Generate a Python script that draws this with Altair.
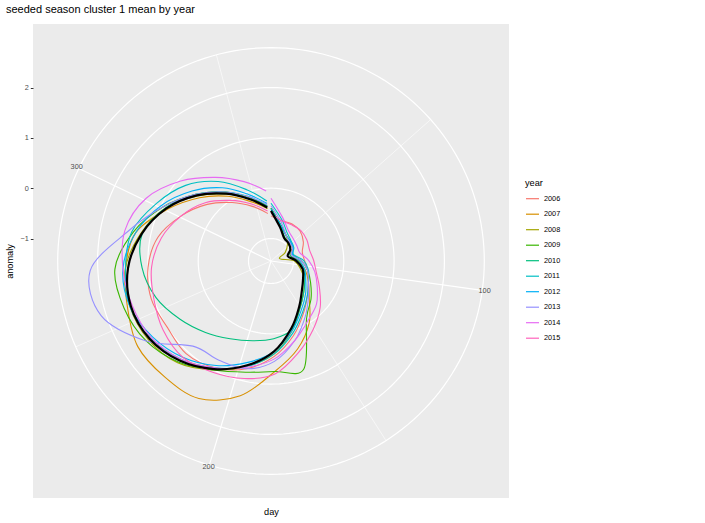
import altair as alt
import pandas as pd

TITLE = "seeded season cluster 1 mean by year"

days = [1, 16, 31, 46, 61, 76, 91, 106, 121, 136, 151, 166, 181,
        196, 211, 226, 241, 256, 271, 286, 301, 316, 331, 346, 361]

years = ["2006", "2007", "2008", "2009", "2010", "2011", "2012", "2013", "2014", "2015"]
colors = ["#F8766D", "#D89000", "#A3A500", "#39B600", "#00BF7D",
          "#00BFC4", "#00B0F6", "#9590FF", "#E76BF3", "#FF62BC"]

y2006 = [-0.55, -0.62, -0.6, -0.62, -0.7, -0.8, -0.78, -0.7, -0.6, -0.45, -0.22, 0.1, 0.45,
         0.75, 0.95, 1.05, 1.0, 1.05, 1.0, 0.85, 0.55, 0.25, -0.05, -0.3, -0.5]
y2007 = [-0.4, -0.7, -0.85, -0.9, -0.95, -1.05, -0.9, -0.75, -0.6, -0.4, 0.0, 0.38, 0.75,
         1.3, 1.64, 1.68, 1.7, 1.55, 1.45, 1.3, 0.85, 0.45, 0.1, -0.2, -0.4]
y2008 = [-0.45, -0.7, -0.85, -0.98, -1.12, -1.27, -1.0, -0.85, -0.7, -0.55, -0.35, 0.0, 0.4,
         0.7, 1.0, 1.3, 1.45, 1.5, 1.45, 1.2, 0.9, 0.5, 0.15, -0.15, -0.4]
y2009 = [-0.4, -0.7, -0.85, -0.9, -0.95, -1.0, -0.85, -0.7, -0.55, -0.35, -0.1, 0.8, 0.75,
         0.82, 1.0, 1.28, 1.5, 1.62, 1.66, 1.35, 0.95, 0.55, 0.2, -0.12, -0.35]
y2010 = [-0.4, -0.72, -0.9, -0.95, -1.0, -1.05, -0.92, -0.78, -0.68, -0.55, -0.35, -0.02, 0.1,
         0.18, 0.3, 0.48, 0.7, 0.95, 1.12, 1.17, 0.9, 0.55, 0.2, -0.1, -0.35]
y2011 = [-0.3, -0.6, -0.8, -0.88, -0.92, -0.98, -0.8, -0.68, -0.6, -0.45, -0.25, 0.05, 0.4,
         0.7, 0.95, 1.2, 1.4, 1.5, 1.45, 1.38, 1.1, 0.82, 0.45, 0.05, -0.25]
y2012 = [-0.42, -0.7, -0.85, -0.9, -0.93, -1.0, -0.88, -0.76, -0.66, -0.5, -0.3, 0.0, 0.35,
         0.62, 0.9, 1.15, 1.35, 1.5, 1.5, 1.3, 1.0, 0.65, 0.3, -0.05, -0.3]
y2013 = [-0.35, -0.65, -0.85, -0.92, -0.95, -1.02, -0.85, -0.7, -0.6, -0.42, -0.15, 0.2, 0.55,
         0.75, 0.78, 0.85, 1.5, 2.1, 2.15, 1.45, 0.95, 0.55, 0.2, -0.1, -0.32]
y2014 = [-0.2, -0.55, -0.75, -0.82, -0.85, -0.85, -0.7, -0.55, -0.4, -0.2, -0.05, 0.2, 0.5,
         0.72, 0.95, 1.2, 1.38, 1.45, 1.5, 1.52, 1.33, 0.95, 0.55, 0.22, -0.05]
y2015 = [-0.5, -0.62, -0.62, -0.6, -0.62, -0.65, -0.6, -0.52, -0.35, -0.1, 0.15, 0.45, 0.8,
         0.95, 1.05, 1.15, 1.1, 1.0, 0.93, 0.78, 0.55, 0.3, 0.0, -0.25, -0.45]

mean_vals = [-0.45, -0.75, -0.92, -0.95, -1.0, -1.1, -0.95, -0.8, -0.72, -0.6, -0.38, -0.05, 0.35,
             0.68, 0.98, 1.24, 1.42, 1.48, 1.40, 1.18, 0.88, 0.52, 0.16, -0.15, -0.38]

r_breaks = [-1, 0, 1, 2]
theta_major = [100, 200, 300]
theta_minor = [50, 150, 250, 350]

series = [y2006, y2007, y2008, y2009, y2010, y2011, y2012, y2013, y2014, y2015]

# ---- layout / scale constants ----
DAY_MIN, DAY_MAX = 1, 365
R_MIN, R_MAX = -1.447, 2.322
SPAN = R_MAX - R_MIN
W, H = 476, 474
XR = W / H * 0.5

rows = []
for yr, vals in zip(years, series):
    for d, v in zip(days, vals):
        rows.append({"year": yr, "day": d, "value": v})
df_years = pd.DataFrame(rows)
df_mean = pd.DataFrame({"day": days, "value": mean_vals})

xs = alt.Scale(domain=[-XR, XR], nice=False, zero=False)
ys = alt.Scale(domain=[-0.5, 0.5], nice=False, zero=False)
xaxis = alt.Axis(title="day", labels=False, ticks=False, domain=False, grid=False,
                 titleFontSize=9.2, titleFontWeight="normal", titleColor="black",
                 titlePadding=9)

theta_expr = f"(datum.day - {DAY_MIN}) / {DAY_MAX - DAY_MIN} * 2 * PI"
rn_expr = f"(datum.value - {R_MIN}) / {SPAN} * 0.4"


def X(f="px"):
    return alt.X(f"{f}:Q", scale=xs, axis=xaxis)


def Y(f="py"):
    return alt.Y(f"{f}:Q", scale=ys, axis=None)


def polar(chart):
    return chart.transform_calculate(th=theta_expr, rn=rn_expr).transform_calculate(
        px="datum.rn * sin(datum.th)", py="datum.rn * cos(datum.th)")


# grid circles at r breaks
circles = alt.Chart(alt.sequence(0, 361, 2, as_="deg")).transform_calculate(
    value=str(r_breaks)
).transform_flatten(["value"]).transform_calculate(
    rn=rn_expr, th="datum.deg * PI / 180"
).transform_calculate(
    px="datum.rn * sin(datum.th)", py="datum.rn * cos(datum.th)"
).mark_line(color="white", strokeWidth=1.2).encode(
    x=X(), y=Y(), detail="value:Q", order="deg:Q")

outer = alt.Chart(alt.sequence(0, 361, 2, as_="deg")).transform_calculate(
    rn="0.45", th="datum.deg * PI / 180"
).transform_calculate(
    px="datum.rn * sin(datum.th)", py="datum.rn * cos(datum.th)"
).mark_line(color="white", strokeWidth=1.2).encode(x=X(), y=Y(), order="deg:Q")


def spokes(day_list, width):
    return alt.Chart(pd.DataFrame({"day": day_list})).transform_calculate(
        th=theta_expr
    ).transform_calculate(
        px="0", py="0", px2="0.45 * sin(datum.th)", py2="0.45 * cos(datum.th)"
    ).mark_rule(color="white", strokeWidth=width).encode(
        x=X(), y=Y(), x2="px2:Q", y2="py2:Q")


spokes_minor = spokes(theta_minor, 0.6)
spokes_major = spokes(theta_major, 1.2)

year_lines = polar(alt.Chart(df_years)).mark_line(
    strokeWidth=1.1, interpolate="cardinal"
).encode(
    x=X(), y=Y(), order="day:Q",
    color=alt.Color("year:N", scale=alt.Scale(domain=years, range=colors),
                    legend=alt.Legend(title="year", orient="none", legendX=492, legendY=155,
                                      symbolType="stroke", symbolSize=169,
                                      symbolStrokeWidth=1.2, labelFontSize=7.3,
                                      titleFontSize=9.2, titleFontWeight="normal",
                                      titleColor="black", labelColor="black",
                                      titlePadding=3, rowPadding=4.5, labelOffset=4,
                                      padding=0)))

mean_line = polar(alt.Chart(df_mean)).mark_line(
    strokeWidth=2.2, color="black", interpolate="cardinal"
).encode(x=X(), y=Y(), order="day:Q")

theta_labels = alt.Chart(pd.DataFrame({"day": theta_major})).transform_calculate(
    th=theta_expr
).transform_calculate(
    px="0.455 * sin(datum.th)", py="0.455 * cos(datum.th)"
).mark_text(fontSize=7.3, color="#4D4D4D", align="center", baseline="middle").encode(
    x=X(), y=Y(), text="day:Q")

r_axis = alt.Chart(pd.DataFrame({"b": r_breaks})).mark_point(opacity=0).encode(
    x=alt.value(0),
    y=alt.Y("b:Q",
            scale=alt.Scale(domain=[R_MIN - 1.25 * SPAN, R_MIN + 1.25 * SPAN],
                            nice=False, zero=False),
            axis=alt.Axis(orient="left", values=r_breaks, title="anomaly",
                          grid=False, domain=False, tickSize=2.7, tickColor="#333333",
                          labelFontSize=7.3, labelColor="#4D4D4D", labelPadding=2,
                          titleFontSize=9.2, titleFontWeight="normal",
                          titleColor="black", titlePadding=5)))

chart = alt.layer(
    circles, outer, spokes_minor, spokes_major, year_lines, mean_line, theta_labels, r_axis
).resolve_scale(y="independent").properties(
    width=W, height=H,
    title=alt.TitleParams(text=TITLE, anchor="start", fontSize=11, fontWeight="normal",
                          offset=9, color="black"),
    autosize=alt.AutoSizeParams(type="none"),
    padding={"left": 33, "top": 24, "right": 196, "bottom": 25},
).configure(
    font="Liberation Sans",
    view=alt.ViewConfig(fill="#EBEBEB", stroke=None),
)

chart.save("out.html", embed_options={"renderer": "svg", "actions": False})
